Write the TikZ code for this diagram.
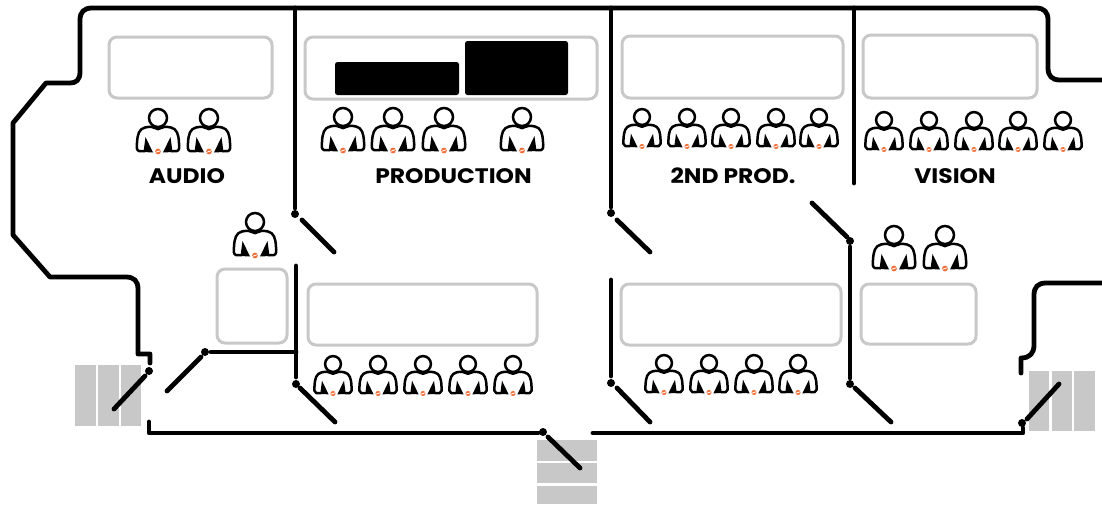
\documentclass[tikz,border=0pt]{standalone}
\usepackage{fontspec}
\setmainfont[FakeStretch=1.115]{Poppins}
\definecolor{desk}{HTML}{C8C8C8}
\definecolor{badge}{HTML}{F0703A}
\tikzset{
  x=1pt,y=-1pt,
  wall/.style={line width=4.8pt,line cap=round,line join=round,black},
  deskbox/.style={draw=desk,line width=3pt,rounded corners=8pt,fill=white},
  mat/.style={fill=desk,draw=none},
  roomlabel/.style={font=\fontsize{21}{22}\selectfont\bfseries,inner sep=0pt,anchor=center},
  hinge/.style={fill=black,draw=none},
  pics/person/.style={code={
    \draw[line width=2.5pt,black] (0,0) circle (9);
    \draw[line width=2.5pt,black,line join=round,line cap=round]
      (-13.5,33) -- (-19,33) .. controls (-21.5,32.5) and (-21.5,29) .. (-21,25)
      .. controls (-20.5,16) and (-19,11) .. (-13,9.5) .. controls (-8,8.5) and (-5,8.5) .. (-3,10)
      .. controls (-1,11.5) and (1,11.5) .. (3,10)
      .. controls (5,8.5) and (8,8.5) .. (13,9.5) .. controls (19,11) and (20.5,16) .. (21,25)
      .. controls (21.5,29) and (21.5,32.5) .. (19,33) -- (13.5,33);
    \fill[black] (-12.5,19) -- (-14.5,34) -- (-5,34.5) -- cycle;
    \fill[black] (12.5,19) -- (14.5,34) -- (5,34.5) -- cycle;
    \fill[badge] (0,33.5) circle (2.9);
    \draw[white,line width=.8pt] (-2.6,34.3) -- (2.6,32.7);
  }}
}
\begin{document}
\begin{tikzpicture}
\useasboundingbox (0,0) rectangle (1102,504);
\fill[white] (0,0) rectangle (1102,504);

% door mats
\foreach \a/\b in {75/96,98/119,121/141}{\fill[mat] (\a,365) rectangle (\b,426);}
\foreach \a/\b in {1029/1049,1052/1072,1074/1095}{\fill[mat] (\a,371) rectangle (\b,431);}
\foreach \a/\b in {440/461,463/483,486/504}{\fill[mat] (537,\a) rectangle (597,\b);}

% desks
\draw[deskbox] (109,37) rectangle (272,98);
\draw[deskbox] (305,37) rectangle (597,99);
\draw[deskbox] (622,36) rectangle (843,98);
\draw[deskbox] (863,35) rectangle (1037,98);
\draw[deskbox] (217,269) rectangle (287,343);
\draw[deskbox] (308,284) rectangle (537,345);
\draw[deskbox] (621,284) rectangle (841,345);
\draw[deskbox] (861,284) rectangle (976,344);
\fill[black,rounded corners=2.5pt] (335,62) rectangle (459,95);
\fill[black,rounded corners=2.5pt] (465,41) rectangle (568,95);

% outer wall
\draw[wall] (1102,80) -- (1060,80) .. controls (1052,80) and (1048,76) .. (1048,68)
  -- (1048,20) .. controls (1048,12) and (1044,8) .. (1036,8)
  -- (92,8) .. controls (84,8) and (80,12) .. (80,20)
  -- (80,72) .. controls (80,80) and (76,83) .. (70,83)
  -- (46,83) -- (13,123) -- (13,235) -- (50,277) -- (126,277)
  .. controls (134,277) and (138,281) .. (138,289)
  -- (138,354) -- (150,354) -- (150,363);
\draw[wall] (149,422) -- (149,433) -- (538,433);
\draw[wall] (593,433) -- (1023,433) -- (1023,428);
\draw[wall] (1102,283) -- (1046,283) .. controls (1038,283) and (1034,287) .. (1034,295)
  -- (1034,345) .. controls (1034,353) and (1030,358) .. (1021,358) -- (1021,373);

% partitions
\draw[wall] (295,8) -- (295,208);
\draw[wall] (296,266) -- (296,377);
\draw[wall] (211,352) -- (296,352);
\draw[wall] (611,8) -- (611,207);
\draw[wall] (611,280) -- (611,376);
\draw[wall] (854,8) -- (854,183);
\draw[wall] (850,247) -- (850,378);

% doors
\draw[wall] (145,376) -- (114,409);
\draw[wall] (201,357) -- (167,391);
\draw[wall] (302,220) -- (334,252);
\draw[wall] (300,388) -- (335,422);
\draw[wall] (617,220) -- (650,252);
\draw[wall] (617,388) -- (650,422);
\draw[wall] (812,203) -- (847,237);
\draw[wall] (855,388) -- (891,422);
\draw[wall] (548,437) -- (580,468);
\draw[wall] (1027,419) -- (1059,384);

% hinges
\foreach \p/\q in {149/371,205/352,295/214,296/384,611/213,611/383,850/241,850/384,543/432,1022/423}{
  \fill[hinge] (\p,\q) circle (4);}

% people, full size
\foreach \p/\q in {158/118,209/118,343/117,393/117,444/117,522/117,255/222,894/235,945/235}{
  \pic at (\p,\q) {person};}
% people, smaller
\foreach \p/\q in {642/117,687/117,731/117,776/117,819/117,
  884/120,929/120,974/120,1018/120,1063/120,
  333/364,378/364,423/364,468/364,513/364,
  664/363,709/363,754/363,798/363}{
  \pic[scale=.88] at (\p,\q) {person};}

% labels
\node[roomlabel] (audio) at (187,176) {AUDIO};
\node[roomlabel] (production) at (453.5,176) {PRODUCTION};
\node[roomlabel] (second) at (733,176) {2ND PROD.};
\node[roomlabel] (vision) at (955,176) {VISION};
\end{tikzpicture}
\end{document}
